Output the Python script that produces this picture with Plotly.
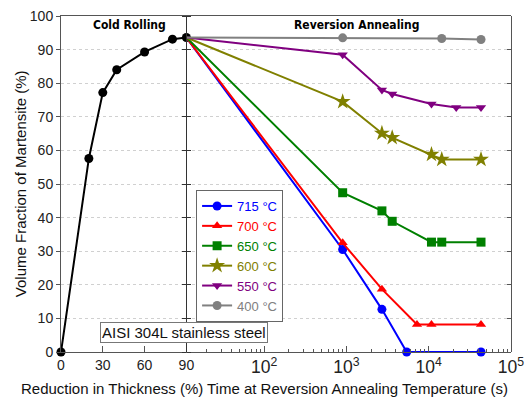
import math
import plotly.graph_objects as go

# ---------------- data ----------------
reduction = [0, 20, 30, 40, 60, 80, 90]
martensite_cr = [0, 57.6, 77.2, 84.0, 89.3, 93.1, 93.6]

as_rolled = 93.6  # value at 90 % reduction, start of every annealing curve

series_names = ["715 °C", "700 °C", "650 °C", "600 °C", "550 °C", "400 °C"]
t_715 = [900, 2700, 5400, 43200]
v_715 = [30.5, 12.7, 0, 0]
t_700 = [900, 2700, 7200, 10800, 43200]
v_700 = [32.5, 18.7, 8.2, 8.2, 8.2]
t_650 = [900, 2700, 3600, 10800, 14400, 43200]
v_650 = [47.4, 42.0, 38.9, 32.7, 32.7, 32.7]
t_600 = [900, 2700, 3600, 10800, 14400, 43200]
v_600 = [74.5, 65.1, 63.8, 58.8, 57.3, 57.3]
t_550 = [900, 2700, 3600, 10800, 21600, 43200]
v_550 = [88.5, 78.0, 76.8, 73.8, 72.8, 72.8]
t_400 = [900, 14400, 43200]
v_400 = [93.5, 93.3, 93.0]

colors = ["#0000FF", "#FF0000", "#008000", "#808000", "#800080", "#808080"]
symbols = ["circle", "triangle-up", "square", "star", "triangle-down", "circle"]

x_ticks_left = [0, 30, 60, 90]
y_ticks = list(range(0, 101, 10))

# ---------------- layout geometry ----------------
W, H = 532, 397
ML, MR, MT, MB = 61, 8, 16, 45
PW = W - ML - MR
PH = H - MT - MB
split = 129 / PW
log_lo, log_hi = 1.055, 5.0
t_start = 10 ** log_lo

def px(x):
    return (x - ML) / PW

def py(y):
    return (H - MB - y) / PH

FONT = "Liberation Sans, Arial, sans-serif"

fig = go.Figure()

all_t = [t_715, t_700, t_650, t_600, t_550, t_400]
all_v = [v_715, v_700, v_650, v_600, v_550, v_400]
for name, t, v, c, s in zip(series_names, all_t, all_v, colors, symbols):
    msize = 12 if s == "star" else 9
    fig.add_trace(go.Scatter(
        x=[t_start] + t, y=[as_rolled] + v,
        xaxis="x2", yaxis="y",
        mode="lines+markers",
        name=f"<span style='color:{c}'>{name}</span>",
        line=dict(color=c, width=2),
        marker=dict(color=c, symbol=s, size=msize),
        cliponaxis=False,
    ))

fig.add_trace(go.Scatter(
    x=reduction, y=martensite_cr, xaxis="x", yaxis="y",
    mode="lines+markers", showlegend=False,
    line=dict(color="black", width=2),
    marker=dict(color="black", size=9),
    cliponaxis=False,
))

axcol = "#555555"
tickfont = dict(family=FONT, size=14, color="#222")

fig.update_layout(
    width=W, height=H,
    margin=dict(l=ML, r=MR, t=MT, b=MB),
    paper_bgcolor="white", plot_bgcolor="white",
    font=dict(family=FONT, color="#222", size=14),
    showlegend=True,
    legend=dict(
        x=px(200), y=py(190), xanchor="left", yanchor="top",
        bgcolor="white", bordercolor="#666", borderwidth=1,
        font=dict(size=13, family=FONT),
        itemwidth=30, tracegroupgap=0,
    ),
    xaxis=dict(
        domain=[0, split], range=[0, 90], tickvals=x_ticks_left,
        ticks="inside", ticklen=6, tickcolor=axcol,
        showline=True, linecolor=axcol, linewidth=1, mirror=True,
        showgrid=False, zeroline=False, tickfont=tickfont,
        anchor="y",
    ),
    xaxis2=dict(
        domain=[split, 1], type="log", range=[log_lo, log_hi],
        dtick=1, exponentformat="power", showexponent="all",
        ticks="inside", ticklen=6, tickcolor=axcol,
        minor=dict(dtick="D1", ticks="inside", ticklen=3, tickcolor=axcol, showgrid=False),
        showline=True, linecolor=axcol, linewidth=1, mirror=True,
        showgrid=False, zeroline=False, tickfont=tickfont,
        anchor="y",
    ),
    yaxis=dict(
        range=[0, 100], tickvals=y_ticks,
        ticks="outside", ticklen=4, tickcolor=axcol,
        showline=True, linecolor=axcol, linewidth=1,
        showgrid=True, gridcolor="#d0d0d0", griddash="dot", gridwidth=1,
        zeroline=False, tickfont=tickfont, anchor="x",
    ),
    # divider axis (ticks both sides) and right frame axis
    yaxis2=dict(
        range=[0, 100], tickvals=y_ticks, overlaying="y", anchor="free",
        position=split, side="left", ticks="outside", ticklen=4, tickcolor="#333",
        showline=True, linecolor="#333", linewidth=1, showticklabels=False,
        showgrid=False, zeroline=False,
    ),
    yaxis3=dict(
        range=[0, 100], tickvals=y_ticks, overlaying="y", anchor="free",
        position=split, side="right", ticks="outside", ticklen=4, tickcolor="#333",
        showline=False, showticklabels=False, showgrid=False, zeroline=False,
    ),
    yaxis4=dict(
        range=[0, 100], tickvals=y_ticks, overlaying="y", anchor="free",
        position=1, side="right", ticks="inside", ticklen=4, tickcolor=axcol,
        showline=True, linecolor=axcol, linewidth=1, showticklabels=False,
        showgrid=False, zeroline=False,
    ),
)

# dummy traces to activate extra y axes
for ya in ["y2", "y3", "y4"]:
    fig.add_trace(go.Scatter(x=[None], y=[None], xaxis="x2", yaxis=ya,
                             showlegend=False, hoverinfo="skip"))

title_font = dict(family="Liberation Sans Narrow, DejaVu Sans Condensed, Arial Narrow, sans-serif",
                  size=12, color="black")
ann = [
    dict(text="<b>Cold Rolling</b>", x=px(131.5), y=py(25), font=title_font),
    dict(text="<b>Reversion Annealing</b>", x=px(365), y=py(25), font=title_font),
    dict(text="AISI 304L stainless steel", x=px(187.5), y=py(332.5),
         font=dict(family=FONT, size=15, color="#111"), bgcolor="white",
         bordercolor="#777", borderwidth=1, borderpad=1),
    dict(text="Reduction in Thickness (%)", x=px(113), y=py(388),
         font=dict(family=FONT, size=15, color="#111")),
    dict(text="Time at Reversion Annealing Temperature (s)", x=px(366), y=py(388),
         font=dict(family=FONT, size=15, color="#111")),
    dict(text="Volume Fraction of Martensite (%)", x=px(19), y=py(184),
         textangle=-90, font=dict(family=FONT, size=15, color="#111")),
]
for a in ann:
    fig.add_annotation(xref="paper", yref="paper", showarrow=False,
                       xanchor="center", yanchor="middle", **a)

fig.write_html("out.html")
